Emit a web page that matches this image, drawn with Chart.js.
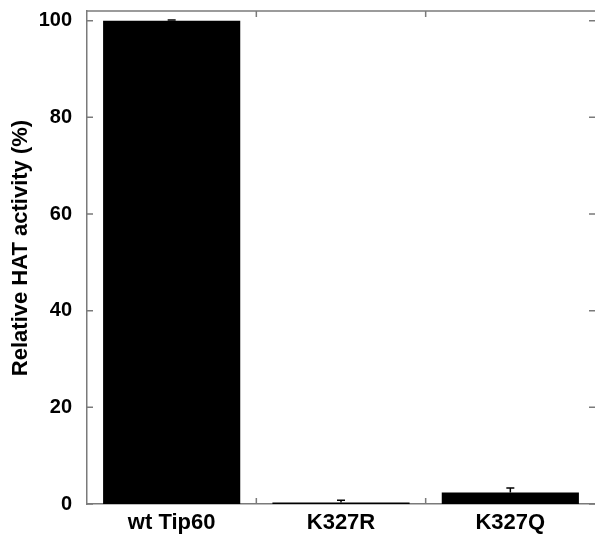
<!DOCTYPE html>
<html>
<head>
<meta charset="utf-8">
<script src="https://cdn.jsdelivr.net/npm/chart.js@4/dist/chart.umd.min.js"></script>
<style>
html,body{margin:0;padding:0;background:#fff}
</style>
</head>
<body>
<canvas id="grafico" width="595" height="536"></canvas>
<script>
// ---------------- DADOS ----------------
const categorias = ["wt Tip60", "K327R", "K327Q"]
const atividade = [100, 0.3, 2.4]
const erros = [0.15, 0.5, 0.9]
const ticksY = [0, 20, 40, 60, 80, 100]
const tituloY = "Relative HAT activity (%)"

const fonte = "'Liberation Sans', Arial, sans-serif"
const corEixo = "#7a7a7a"

// ---------------- MOLDURA, TICKS E ERROS ----------------
const moldura = {
id: "moldura",
afterDatasetsDraw(chart) {
const ctx = chart.ctx
const a = chart.chartArea
const x = chart.scales.x
const y = chart.scales.y

ctx.save()
ctx.strokeStyle = corEixo
ctx.lineWidth = 1.5

// borda de cima
ctx.beginPath()
ctx.moveTo(a.left, a.top)
ctx.lineTo(a.right, a.top)
ctx.stroke()

// ticks do eixo y (para dentro, dos dois lados)
y.ticks.forEach(t => {
const py = y.getPixelForValue(t.value)
ctx.beginPath()
ctx.moveTo(a.left, py)
ctx.lineTo(a.left + 6, py)
ctx.moveTo(a.right, py)
ctx.lineTo(a.right - 6, py)
ctx.stroke()
})

// ticks entre categorias (cima e baixo)
for (let i = 0; i < categorias.length - 1; i++) {
const px = x.getPixelForValue(i + 0.5)
ctx.beginPath()
ctx.moveTo(px, a.top)
ctx.lineTo(px, a.top + 6)
ctx.moveTo(px, a.bottom)
ctx.lineTo(px, a.bottom - 6)
ctx.stroke()
}

// barras de erro
ctx.strokeStyle = "#000"
ctx.lineWidth = 1.5
const meta = chart.getDatasetMeta(0)
meta.data.forEach((bar, i) => {
const topo = y.getPixelForValue(atividade[i] + erros[i])
const base = y.getPixelForValue(atividade[i])
ctx.beginPath()
ctx.moveTo(bar.x, base)
ctx.lineTo(bar.x, topo)
ctx.moveTo(bar.x - 4, topo)
ctx.lineTo(bar.x + 4, topo)
ctx.stroke()
})

// titulo do eixo y
ctx.fillStyle = "#000"
ctx.font = "bold 22px " + fonte
ctx.textAlign = "center"
ctx.textBaseline = "middle"
ctx.translate(21, 248)
ctx.rotate(-Math.PI / 2)
ctx.fillText(tituloY, 0, 0)
ctx.restore()
}
}

// ---------------- GRAFICO ----------------
new Chart(document.getElementById("grafico"), {
type: "bar",
data: {
labels: categorias,
datasets: [{
data: atividade,
backgroundColor: "#000",
borderWidth: 0,
barPercentage: 0.81,
categoryPercentage: 1
}]
},
options: {
responsive: false,
animation: false,
devicePixelRatio: 1,
layout: { padding: { top: 11, right: 0, left: 0, bottom: 0 } },
plugins: {
legend: { display: false },
tooltip: { enabled: false }
},
scales: {
x: {
grid: { display: false, drawTicks: false },
border: { display: true, color: corEixo, width: 1.5 },
ticks: {
color: "#000",
padding: 6,
font: { family: fonte, size: 22, weight: "bold" }
},
afterFit: s => {
s.height = 32
s.paddingLeft = 0
s.paddingRight = 0
}
},
y: {
min: 0,
max: 102,
grid: { display: false, drawTicks: false },
border: { display: true, color: corEixo, width: 1.5 },
afterBuildTicks: s => { s.ticks = ticksY.map(v => ({ value: v })) },
ticks: {
color: "#000",
padding: 15,
font: { family: fonte, size: 20, weight: "bold" }
},
afterFit: s => {
s.width = 87
s.paddingTop = 0
s.paddingBottom = 0
}
}
}
},
plugins: [moldura]
})
</script>
</body>
</html>
